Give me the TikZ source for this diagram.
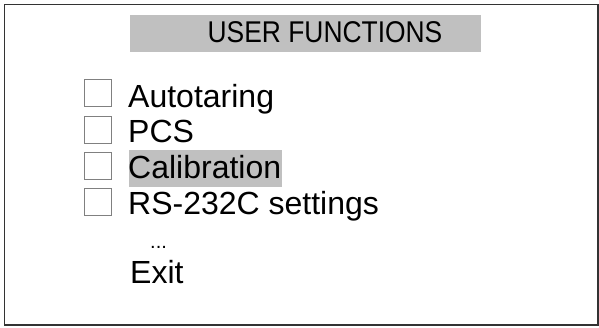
\documentclass[tikz,border=0pt]{standalone}
\usepackage{fontspec}
\setmainfont{Liberation Sans}
\definecolor{hl}{HTML}{C0C0C0}
\definecolor{boxgray}{HTML}{808080}
\begin{document}
\begin{tikzpicture}[x=1pt,y=-1pt,
  item/.style={anchor=base west,inner sep=0pt,font=\fontsize{32}{32}\selectfont},
  chk/.style={draw=boxgray,line width=0.9pt,minimum width=27pt,minimum height=27pt,inner sep=0pt,anchor=north west},
  frame/.style={draw=black!80,line width=1.8pt}]
\useasboundingbox (0,0) rectangle (599,327);
\fill[white] (0,0) rectangle (599,327);
\draw[frame] (4.5,4.5) rectangle (598,325);
\fill[hl] (130,15) rectangle (481,52);
\node[anchor=base,inner sep=0pt,font=\fontsize{30}{30}\selectfont,xscale=0.88] (title) at (325,42.5) {USER FUNCTIONS};
\fill[hl] (129,150) rectangle (282,187);
\node[chk] (b1) at (83.5,78.5) {};
\node[chk] (b2) at (83.5,115.5) {};
\node[chk] (b3) at (83.5,151.5) {};
\node[chk] (b4) at (83.5,188) {};
\node[item] (t1) at (128,107.5) {Autotaring};
\node[item] (t2) at (128,142.5) {PCS};
\node[item] (t3) at (128,178.5) {Calibration};
\node[item] (t4) at (128,214.5) {RS-232C settings};
\node[anchor=base west,inner sep=0pt,font=\fontsize{20}{20}\selectfont] (dots) at (150,248) {...};
\node[item] (t5) at (130,283.5) {Exit};
\end{tikzpicture}
\end{document}
